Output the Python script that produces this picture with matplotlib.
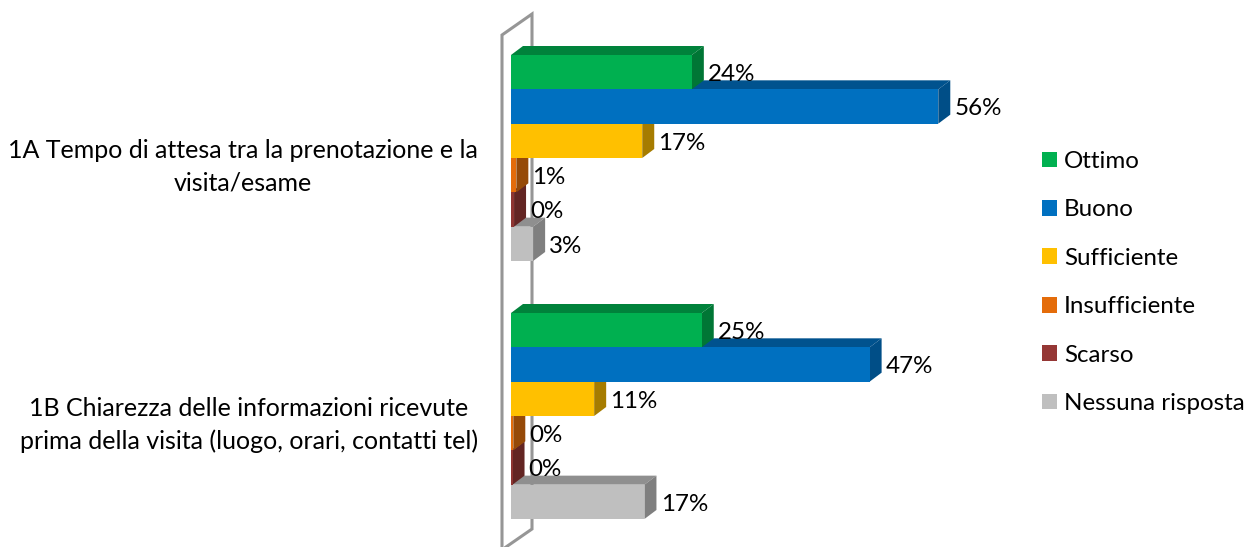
import matplotlib
matplotlib.use("Agg")
import matplotlib.pyplot as plt
from matplotlib.patches import Polygon, Patch
from matplotlib.lines import Line2D

categories = ["1A Tempo di attesa tra la prenotazione e la\nvisita/esame",
              "1B Chiarezza delle informazioni ricevute\nprima della visita (luogo, orari, contatti tel)"]
series = ["Ottimo", "Buono", "Sufficiente", "Insufficiente", "Scarso", "Nessuna risposta"]
values_1a = [23.7, 56.0, 17.2, 0.7, 0.4, 2.9]
values_1b = [25.0, 47.0, 10.9, 0.3, 0.2, 17.49]
front = ["#00B050", "#0070C0", "#FFC000", "#E46C0A", "#8E3431", "#BFBFBF"]
top = ["#00823B", "#00528E", "#BD8E00", "#A85008", "#69262A", "#8F8F8F"]
side = ["#007635", "#004E87", "#A67C00", "#964A08", "#632523", "#7F7F7F"]
legend_colors = ["#00B050", "#0070C0", "#FFC000", "#E46C0A", "#953735", "#BFBFBF"]

W, H = 1249, 547
PX_X = 7.63      # pixels per percent
PX_Y = 34.33     # pixels per bar slot
X0, Y0 = 511, 55
AX_R = 1200

plt.rcParams['font.family'] = ['Lato', 'DejaVu Sans']
FS = 17.4
FS_CAT = 18.0
fig = plt.figure(figsize=(W/100, H/100), dpi=100)
ax = fig.add_axes([X0/W, 0, (AX_R-X0)/W, 1])
ax.set_xlim(0, (AX_R-X0)/PX_X)
ax.set_ylim((H-Y0)/PX_Y, -Y0/PX_Y)
for s in ax.spines.values():
    s.set_visible(False)
ax.xaxis.set_visible(False)

DX, DY = 12/PX_X, 9/PX_Y
group_pos = [0, 258/PX_Y]
groups = [values_1a, values_1b]

# chart wall (thin 3D wall at the zero of the axis)
def xd(p): return (p-X0)/PX_X
def yd(p): return (p-Y0)/PX_Y
wall_kw = dict(color="#969696", lw=2.2, clip_on=False, solid_joinstyle="miter", zorder=1)
ax.add_line(Line2D([xd(502), xd(502), xd(532), xd(532), xd(506)],
                   [yd(547), yd(35), yd(14), yd(529), yd(547)], **wall_kw))

z = 10
for g, vals in zip(group_pos, groups):
    for i in range(len(series)-1, -1, -1):
        v = vals[i]
        yt, yb = g+i, g+i+1
        ax.add_patch(Polygon([(0, yt), (DX, yt-DY), (v+DX, yt-DY), (v, yt)],
                             fc=top[i], ec="none", zorder=z))
        ax.add_patch(Polygon([(v, yt), (v+DX, yt-DY), (v+DX, yb-DY), (v, yb)],
                             fc=side[i], ec="none", zorder=z))
        ax.barh(yt+0.5, v, height=1, color=front[i], lw=0, zorder=z+0.5)
        z += 1
        ax.annotate(f"{v:.0f}%", (v+DX, yt+0.5-DY/2+0.2), xytext=(3, 0), textcoords="offset points",
                    ha="left", va="center", fontsize=FS, color="black", zorder=100)

ax.set_yticks([g+3.07 for g in group_pos])
ax.set_yticklabels(categories, fontsize=FS_CAT, multialignment="center", linespacing=1.5, color="black")
ax.tick_params(axis="y", length=0, pad=24)

handles = [Patch(fc=c, ec="none") for c in legend_colors]
fig.legend(handles, series, loc="center left", bbox_to_anchor=(1042/W, 1-282.5/H), frameon=False,
           fontsize=FS, handlelength=0.62, handleheight=0.62, handletextpad=0.30,
           labelspacing=1.135, borderpad=0, borderaxespad=0, labelcolor="black")
fig.savefig("out.png", dpi=100)
